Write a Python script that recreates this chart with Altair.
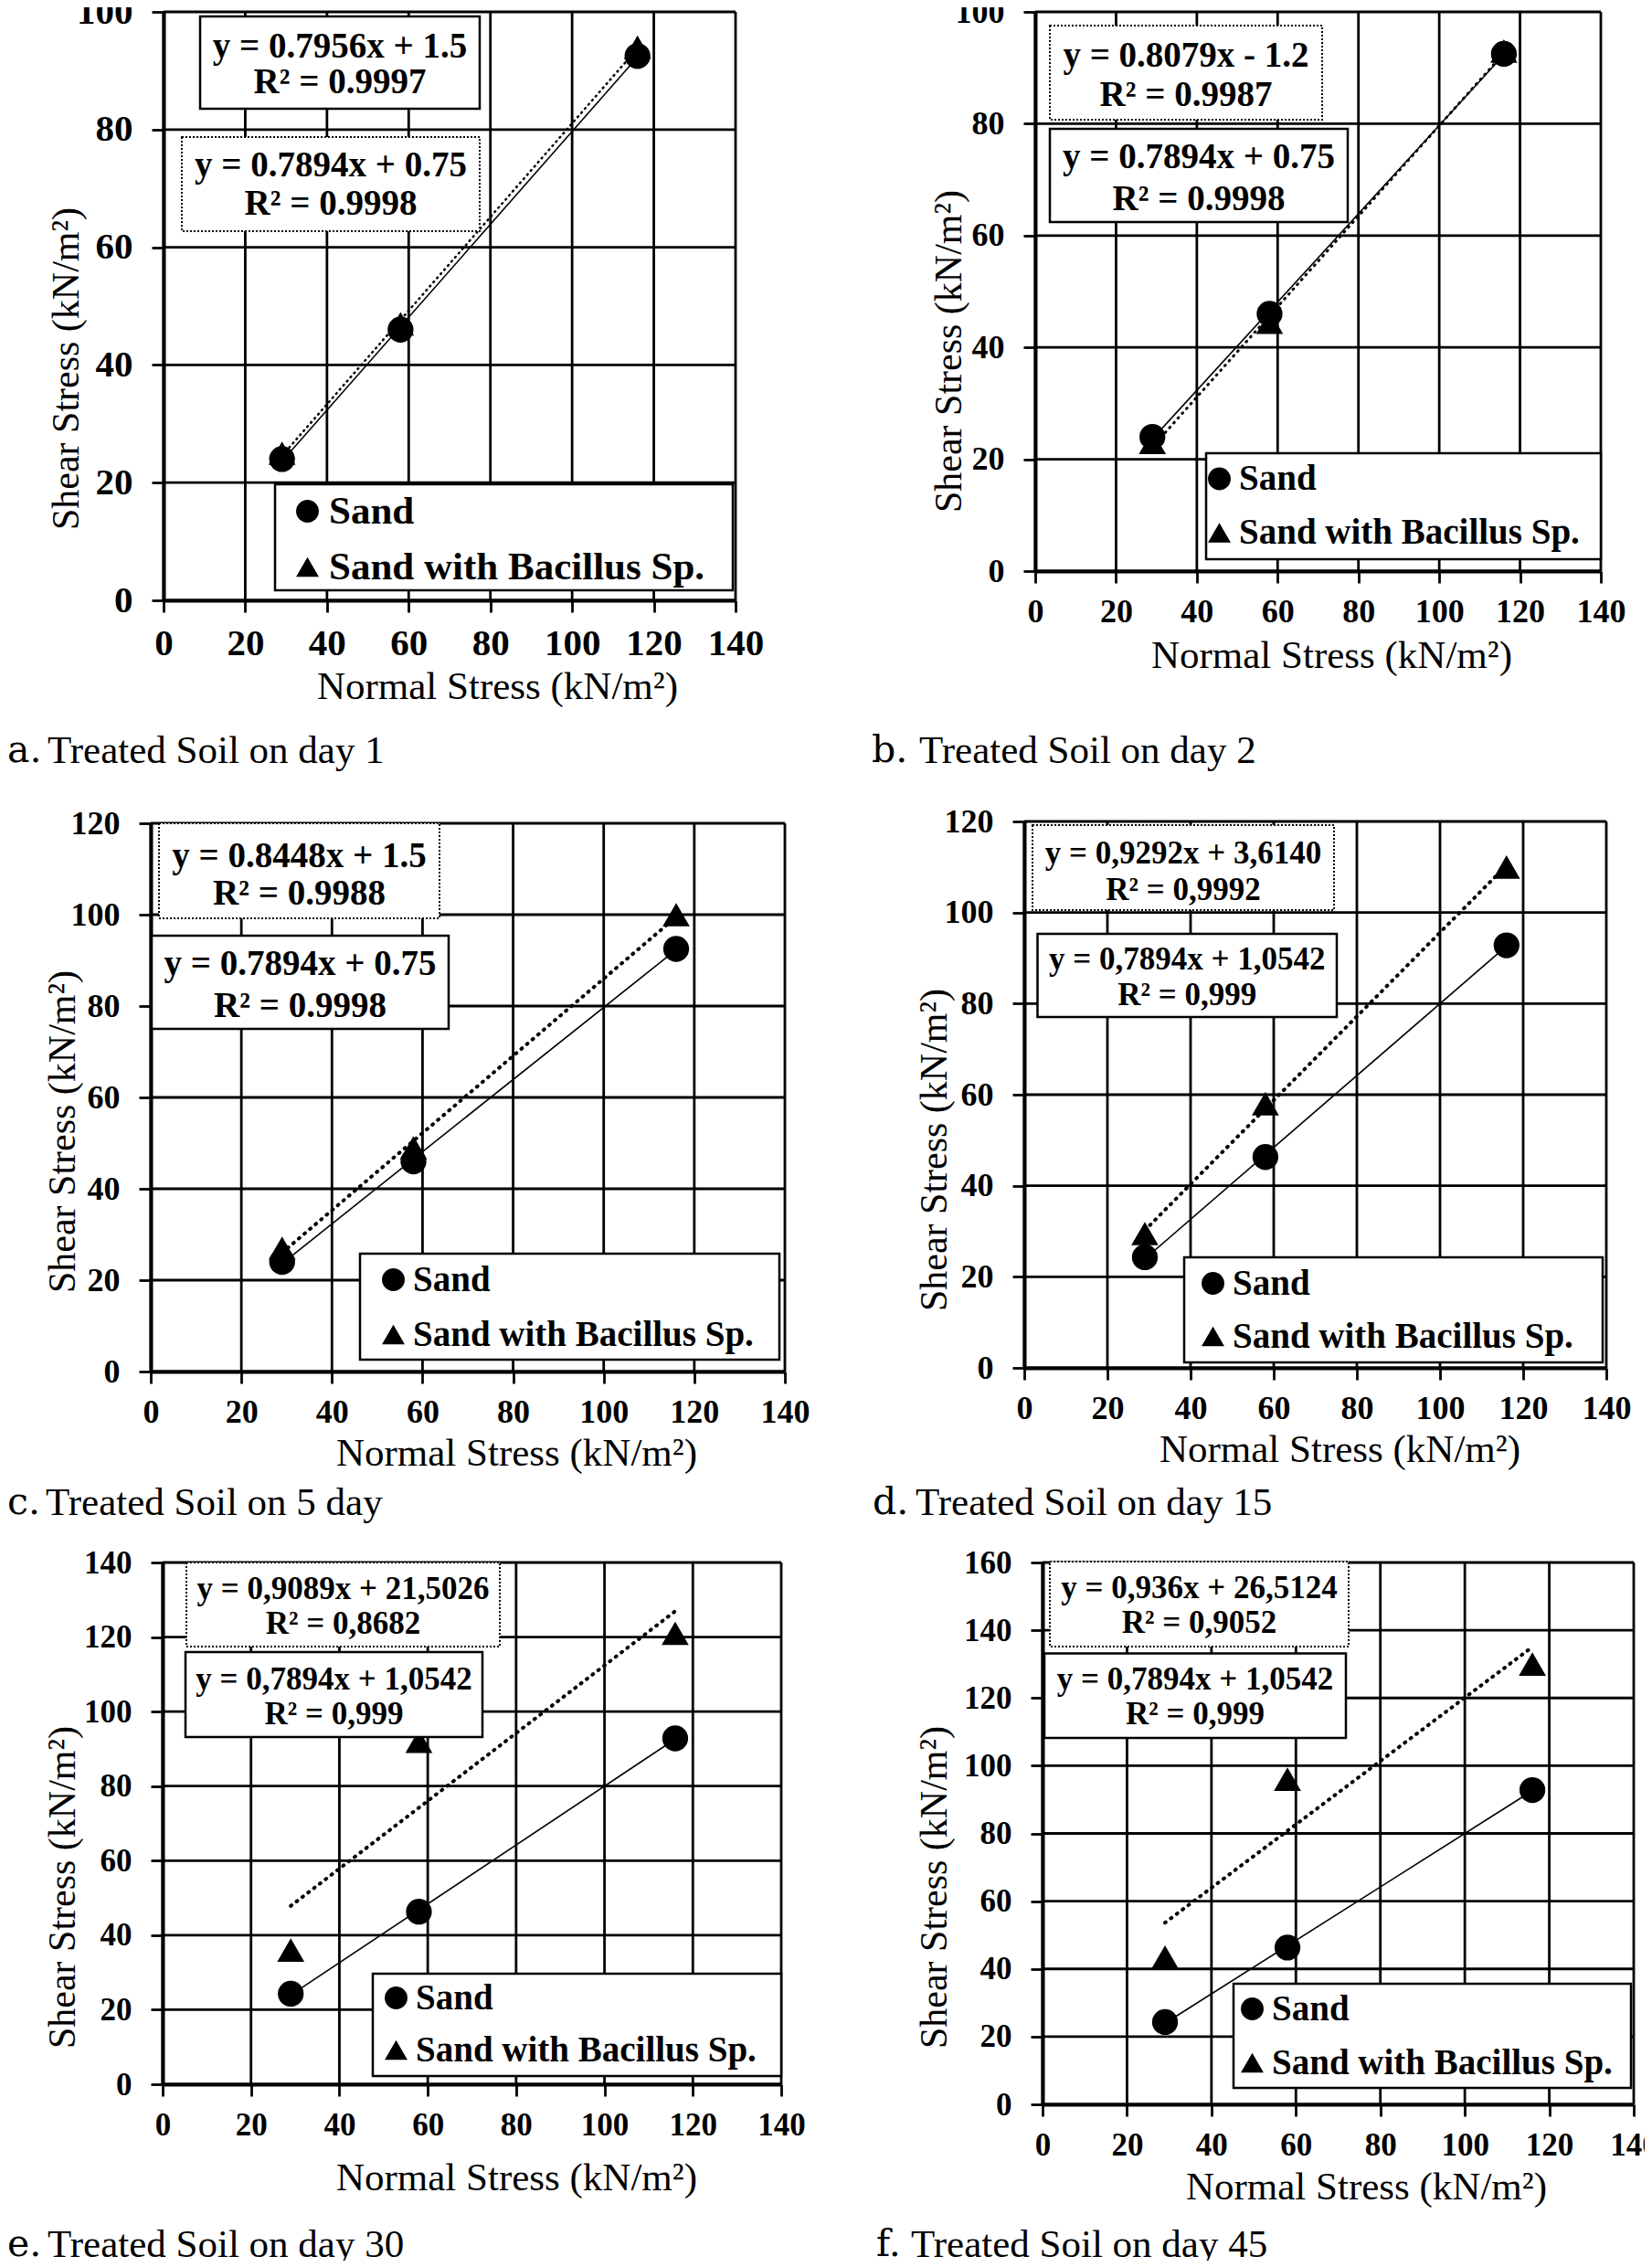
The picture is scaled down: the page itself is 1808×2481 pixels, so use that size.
import altair as alt
import pandas as pd

# ---------------- data ----------------
normal_stress = [29, 58, 116]
series_names = ["Sand", "Sand with Bacillus Sp."]

sand_day1 = [24, 46, 92.5]
sand_day2 = [24, 46, 92.5]
sand_day5 = [24, 46, 92.5]
sand_day15 = [24.3, 46.3, 92.8]
sand_day30 = [24.3, 46.3, 92.8]
sand_day45 = [24.3, 46.3, 92.8]

bacillus_day1 = [25, 47, 94]
bacillus_day2 = [23, 44.5, 93]
bacillus_day5 = [27, 49, 100]
bacillus_day15 = [29.5, 58, 110]
bacillus_day30 = [36, 92, 121]
bacillus_day45 = [43.5, 96, 130]

x_ticks = [0, 20, 40, 60, 80, 100, 120, 140]
y_max_list = [100, 100, 120, 120, 140, 160]

captions_prefix = ["a.", "b.", "c.", "d.", "e.", "f."]
captions_text = ["Treated Soil on day 1", "Treated Soil on day 2", "Treated Soil on 5 day",
                 "Treated Soil on day 15", "Treated Soil on day 30", "Treated Soil on day 45"]

eq_solid = [("y = 0.7956x + 1.5", "R² = 0.9997"),
            ("y = 0.7894x + 0.75", "R² = 0.9998"),
            ("y = 0.7894x + 0.75", "R² = 0.9998"),
            ("y = 0,7894x + 1,0542", "R² = 0,999"),
            ("y = 0,7894x + 1,0542", "R² = 0,999"),
            ("y = 0,7894x + 1,0542", "R² = 0,999")]
eq_dotted = [("y = 0.7894x + 0.75", "R² = 0.9998"),
             ("y = 0.8079x - 1.2", "R² = 0.9987"),
             ("y = 0.8448x + 1.5", "R² = 0.9988"),
             ("y = 0,9292x + 3,6140", "R² = 0,9992"),
             ("y = 0,9089x + 21,5026", "R² = 0,8682"),
             ("y = 0,936x + 26,5124", "R² = 0,9052")]

sand_all = [sand_day1, sand_day2, sand_day5, sand_day15, sand_day30, sand_day45]
bac_all = [bacillus_day1, bacillus_day2, bacillus_day5, bacillus_day15, bacillus_day30, bacillus_day45]

# ---------------- layout / style (page pixels; view origin is page (8, 8)) ----------------
FONT = "Liberation Serif"
W, H = 1792, 2466
O = 8
plot_rect = [(179, 13, 805, 657), (1133, 13, 1752, 625), (165, 901, 859, 1501),
             (1121, 899, 1758, 1497), (178, 1710, 855, 2281), (1141, 1710, 1788, 2303)]
tick_fs = [41, 36, 36, 36, 35, 35]
eq_fs = [39, 39, 39, 35, 35, 35]
leg_fs = [43, 39, 39, 39, 39, 39]
xtitle = [(544, 94), (1457, 92), (565, 89), (1466, 89), (565, 102), (1495, 90)]
ytitle = [(-107, 403), (-95, 384), (-97, 1238), (-99, 1258), (-110, 2065), (-119, 2065)]
solid_box = [(219, 18, 525, 119, 50.6, 90.3), (1149, 141, 1475, 243, 172, 218),
             (166, 1024, 491, 1126, 1055, 1100.5), (1135.5, 1022, 1463, 1113, 1050, 1089),
             (203, 1808, 528, 1901, 1837.5, 1876), (1143, 1809.5, 1473, 1902, 1837.5, 1876)]
dotted_box = [(199, 150, 525, 253, 180.5, 223.4), (1149, 28, 1447, 131, 61, 104),
              (174, 901, 481, 1005, 937, 978), (1130, 903, 1460, 996, 934, 974),
              (204, 1710, 547, 1802, 1739, 1777), (1149, 1709, 1476, 1802, 1738, 1776)]
legend_box = [(301, 530, 802, 646), (1320, 496, 1752, 612), (394, 1372, 853, 1488),
              (1296, 1376, 1754, 1491), (408, 2160, 855, 2272), (1350, 2171, 1785, 2285)]
legend_xy = [(315, 538, 17), (1315, 504.5, 19), (411, 1381, 20), (1308, 1385, 18),
             (414, 2167, 17), (1351, 2179, 19)]
caption_pos = [(8, 52, 822), (954, 1006, 822), (8, 50, 1645),
               (955, 1002, 1645), (8, 52, 2457), (959, 997, 2457)]
dot_style = [(2.5, [1, 5]), (3, [1, 6]), (4, [1, 7]), (4, [1, 7]), (4, [1, 7]), (4, [1, 7])]

one = pd.DataFrame({"k": [0]})


def rect(b, dotted=False):
    kw = dict(fill="white", stroke="black", strokeWidth=2.5)
    if dotted:
        kw["strokeDash"] = [2, 2]
        kw["strokeWidth"] = 2
    return alt.Chart(one).mark_rect(**kw).encode(
        x=alt.value(b[0] - O), x2=alt.value(b[2] - O), y=alt.value(b[1] - O), y2=alt.value(b[3] - O))


def label(txt, x, y, fs, weight="bold", align="center", font=FONT):
    return alt.Chart(one).mark_text(text=txt, font=font, fontSize=fs, fontWeight=weight,
                                    align=align, baseline="middle", color="black").encode(
        x=alt.value(x - O), y=alt.value(y - O))


def make_panel(i):
    x0, y0, x1, y1 = plot_rect[i]
    ymax = y_max_list[i]
    y_ticks = list(range(0, ymax + 1, 20))
    xs = alt.Scale(domain=[0, 140], range=[x0 - O, x1 - O], nice=False, zero=False)
    ys = alt.Scale(domain=[0, ymax], range=[y1 - O, y0 - O], nice=False, zero=False)
    x_axis = alt.Axis(orient="bottom", offset=(y1 - O) - H, values=x_ticks, grid=False,
                      title="Normal Stress (kN/m²)",
                      titleX=xtitle[i][0] - O, titleY=xtitle[i][1],
                      titleAlign="center", titleBaseline="middle", titleFontSize=43,
                      labelFontSize=tick_fs[i], labelPadding=14,
                      labelFlush=False, labelOverlap=False, labelBound=False)
    y_axis = alt.Axis(orient="left", offset=-(x0 - O), values=y_ticks, grid=False,
                      title="Shear Stress (kN/m²)",
                      titleX=ytitle[i][0], titleY=ytitle[i][1] - O, titleAngle=270,
                      titleAlign="center", titleBaseline="middle", titleFontSize=42,
                      labelFontSize=tick_fs[i], labelPadding=21,
                      labelFlush=False, labelOverlap=False, labelBound=False)

    def X(f):
        return alt.X(f, type="quantitative", scale=xs, axis=x_axis)

    def Y(f):
        return alt.Y(f, type="quantitative", scale=ys, axis=y_axis)

    df = pd.DataFrame({
        "x": normal_stress + normal_stress,
        "y": bac_all[i] + sand_all[i],
        "series": [series_names[1]] * 3 + [series_names[0]] * 3,
    })
    base = alt.Chart(df)

    gv = pd.DataFrame({"v": x_ticks, "lo": [0] * len(x_ticks), "hi": [ymax] * len(x_ticks)})
    gh = pd.DataFrame({"h": y_ticks, "lo": [0] * len(y_ticks), "hi": [140] * len(y_ticks)})
    grid_v = alt.Chart(gv).mark_rule(color="black", strokeWidth=2.8).encode(
        x=X("v"), y=Y("lo"), y2=alt.Y2("hi"))
    grid_h = alt.Chart(gh).mark_rule(color="black", strokeWidth=2.8).encode(
        y=Y("h"), x=X("lo"), x2=alt.X2("hi"))

    sand_line = base.transform_filter(alt.datum.series == series_names[0]).transform_regression(
        "x", "y").mark_line(color="black", strokeWidth=1.6).encode(x=X("x"), y=Y("y"))
    dw, dd = dot_style[i]
    bac_line = base.transform_filter(alt.datum.series == series_names[1]).transform_regression(
        "x", "y").mark_line(color="black", strokeWidth=dw, strokeDash=dd, strokeCap="round").encode(
        x=X("x"), y=Y("y"))

    lx, ly, rp = legend_xy[i]
    points = base.mark_point(filled=True, opacity=1, color="black", strokeWidth=0).encode(
        x=X("x"), y=Y("y"),
        shape=alt.Shape("series:N", scale=alt.Scale(domain=series_names, range=["circle", "triangle-up"]),
                        legend=alt.Legend(title=None, orient="none", legendX=lx - O, legendY=ly - O,
                                          direction="vertical", padding=0,
                                          labelFont=FONT, labelFontWeight="bold",
                                          labelFontSize=leg_fs[i], labelColor="black",
                                          labelLimit=1000, labelOffset=2, rowPadding=rp,
                                          symbolSize=620, symbolFillColor="black",
                                          symbolStrokeColor="black", symbolStrokeWidth=0,
                                          symbolOpacity=1)),
        size=alt.condition(alt.datum.series == series_names[0], alt.value(800), alt.value(880)),
    )

    sb, db, lb = solid_box[i], dotted_box[i], legend_box[i]
    layers = [grid_v, grid_h, sand_line, bac_line, points,
              rect(sb), rect(db, dotted=True), rect(lb),
              label(eq_solid[i][0], (sb[0] + sb[2]) / 2, sb[4], eq_fs[i]),
              label(eq_solid[i][1], (sb[0] + sb[2]) / 2, sb[5], eq_fs[i]),
              label(eq_dotted[i][0], (db[0] + db[2]) / 2, db[4], eq_fs[i]),
              label(eq_dotted[i][1], (db[0] + db[2]) / 2, db[5], eq_fs[i]),
              label(captions_prefix[i], caption_pos[i][0], caption_pos[i][2], 41, weight="normal",
                    align="left", font="DejaVu Serif"),
              label(captions_text[i], caption_pos[i][1], caption_pos[i][2], 43, weight="normal", align="left")]
    return alt.layer(*layers)


panels = [make_panel(i) for i in range(6)]

chart = alt.layer(*panels).resolve_scale(
    x="independent", y="independent", shape="independent"
).resolve_axis(x="independent", y="independent").resolve_legend(
    shape="independent"
).properties(
    width=W, height=H,
    autosize=alt.AutoSizeParams(type="none"),
    padding=0,
).configure_axis(
    domainColor="black", domainWidth=4, tickColor="black", tickWidth=2.8, tickSize=13,
    labelFont=FONT, labelFontWeight="bold", labelColor="black",
    titleFont=FONT, titleFontWeight="normal", titleColor="black",
).configure_view(stroke=None).configure_legend(strokeColor=None)

chart.save("out.html", embed_options={"renderer": "svg", "actions": False})
